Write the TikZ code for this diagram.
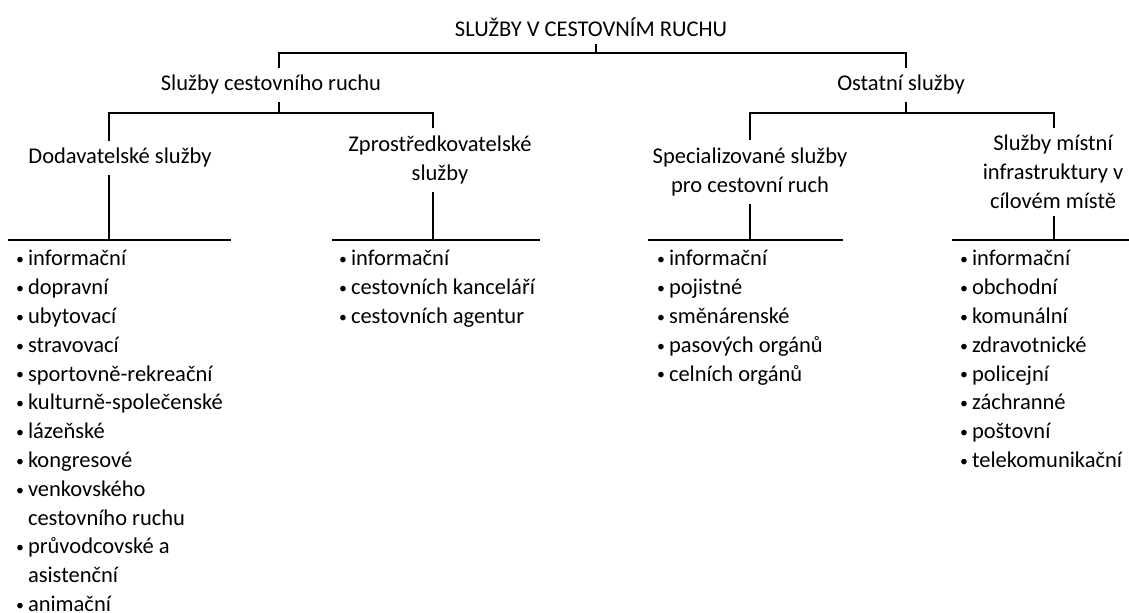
\documentclass[tikz,border=0pt]{standalone}
\usepackage{fontspec}
\setmainfont{Carlito}

\tikzset{
  lbl/.style={align=center, font=\fontsize{11.25}{14.4}\selectfont},
  lst/.style={align=left, anchor=base west, inner sep=0pt, font=\fontsize{11.25}{14.4}\selectfont},
  conn/.style={line width=1pt, black}
}
\newcommand{\itm}{\makebox[6pt][l]{\makebox[4pt][c]{\raisebox{0.6pt}{\scalebox{0.7}{•}}}}}
\newcommand{\cnt}{\makebox[6pt]{}}

\begin{document}
\begin{tikzpicture}[x=0.5pt, y=-0.5pt, conn]
        \useasboundingbox (0,0) rectangle (1129,613);

        % headings
        \node[lbl] (root) at (591,27) {SLUŽBY V CESTOVNÍM RUCHU};
        \node[lbl] (cr) at (271,85) {Služby cestovního ruchu};
        \node[lbl] (os) at (901,85) {Ostatní služby};
        \node[lbl] (dod) at (120,158) {Dodavatelské služby};
        \node[lbl] (zpr) at (440,160) {Zprostředkovatelské\\služby};
        \node[lbl] (spec) at (750,172) {Specializované služby\\pro cestovní ruch};
        \node[lbl] (mist) at (1053,172) {Služby místní\\infrastruktury v\\cílovém místě};

        % lists (anchored on the baseline of their last line)
        \node[lst] (l1) at (15,611.6) {\itm informační\\ \itm dopravní\\ \itm ubytovací\\ \itm stravovací\\
            \itm sportovně-rekreační\\ \itm kulturně-společenské\\ \itm lázeňské\\ \itm kongresové\\
            \itm venkovského\\ \cnt cestovního ruchu\\ \itm průvodcovské a\\ \cnt asistenční\\ \itm animační};
        \node[lst] (l2) at (338,323.6) {\itm informační\\ \itm cestovních kanceláří\\ \itm cestovních agentur};
        \node[lst] (l3) at (656,381.2) {\itm informační\\ \itm pojistné\\ \itm směnárenské\\
            \itm pasových orgánů\\ \itm celních orgánů};
        \node[lst] (l4) at (959,467.6) {\itm informační\\ \itm obchodní\\ \itm komunální\\ \itm zdravotnické\\
            \itm policejní\\ \itm záchranné\\ \itm poštovní\\ \itm telekomunikační};

        % junctions
        \coordinate (r0) at (596,53);
        \coordinate (r1) at (279,53);
        \coordinate (r2) at (906,53);
        \coordinate (c0) at (279,113);
        \coordinate (c1) at (109,113);
        \coordinate (c2) at (433,113);
        \coordinate (o0) at (906,113);
        \coordinate (o1) at (750,113);
        \coordinate (o2) at (1054,113);
        \coordinate (d0) at (109,240);
        \coordinate (d1) at (8,240);
        \coordinate (d2) at (231,240);
        \coordinate (z0) at (433,240);
        \coordinate (z1) at (332,240);
        \coordinate (z2) at (540,240);
        \coordinate (s0) at (750,240);
        \coordinate (s1) at (648,240);
        \coordinate (s2) at (843,240);
        \coordinate (m0) at (1054,240);
        \coordinate (m1) at (952,240);
        \coordinate (m2) at (1129,240);

        \draw (root.south -| r0) -- (r0);
        \draw (r1 |- cr.north) -- (r1) -- (r2) -- (r2 |- os.north);
        \draw (cr.south -| c0) -- (c0);
        \draw (os.south -| o0) -- (o0);
        \draw (c1 |- dod.north) -- (c1) -- (c2) -- (c2 |- zpr.north);
        \draw (o1 |- spec.north) -- (o1) -- (o2) -- (o2 |- mist.north);
        \draw (dod.south -| d0) -- (d0);
        \draw (zpr.south -| z0) -- (z0);
        \draw (spec.south -| s0) -- (s0);
        \draw (mist.south -| m0) -- (m0);
        \draw (d1) -- (d2);
        \draw (z1) -- (z2);
        \draw (s1) -- (s2);
        \draw (m1) -- (m2);
    \end{tikzpicture}
\end{document}
